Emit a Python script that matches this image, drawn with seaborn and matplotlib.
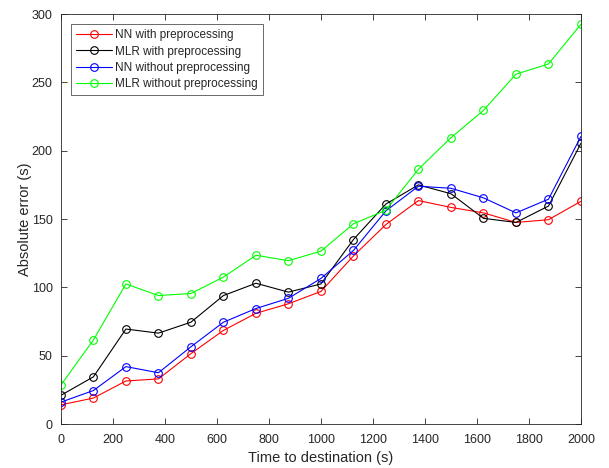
import pandas as pd
import seaborn as sns
import matplotlib.pyplot as plt

# time to destination (s)
time_s = [0, 125, 250, 375, 500, 625, 750, 875, 1000, 1125, 1250, 1375, 1500, 1625, 1750, 1875, 2000]

# absolute error (s) for each method
nn_pre = [14, 19, 31.5, 33, 51.5, 68.5, 81, 88, 97, 123, 146, 163.5, 158.5, 154.5, 147.5, 149.5, 163]
mlr_pre = [21, 34.5, 69.5, 66.5, 74.5, 94, 103, 96.5, 102.5, 135, 161, 175, 168.5, 150.5, 147.5, 159.5, 205.5]
nn_raw = [16, 24.5, 42, 37.5, 56.5, 74.5, 84.5, 92, 106.5, 127, 156, 174, 172.5, 165.5, 154.5, 164.5, 210.5]
mlr_raw = [28.5, 61.5, 102.5, 94, 95.5, 107.5, 123.5, 119.5, 126.5, 146.5, 156.5, 186.5, 209.5, 229.5, 256, 263.5, 292.5]

labels = ["NN with preprocessing", "MLR with preprocessing",
          "NN without preprocessing", "MLR without preprocessing"]
colors = ["#ff0000", "#000000", "#0000ff", "#00ff00"]
series = [nn_pre, mlr_pre, nn_raw, mlr_raw]

sns.set_theme(style="white")
plt.rcParams['font.family'] = ['Liberation Sans', 'DejaVu Sans']
plt.rcParams['xtick.direction'] = 'in'
plt.rcParams['ytick.direction'] = 'in'

fig = plt.figure(figsize=(6.09, 4.68), dpi=100)
ax = fig.add_axes([0.1, 0.094, 0.854, 0.876])

for vals, lab, col in zip(series, labels, colors):
    df = pd.DataFrame({"t": time_s, "err": vals})
    sns.lineplot(data=df, x="t", y="err", ax=ax, color=col, label=lab,
                 marker="o", markersize=5.5, markerfacecolor="none",
                 markeredgecolor=col, markeredgewidth=0.8, linewidth=0.8)

ax.set_xlim(0, 2000)
ax.set_ylim(0, 300)
ax.set_xticks(range(0, 2001, 200))
ax.set_yticks(range(0, 301, 50))
ax.set_xlabel("Time to destination (s)", fontsize=10.5, color="#262626", labelpad=4)
ax.set_ylabel("Absolute error (s)", fontsize=10.5, color="#262626", labelpad=0)
ax.tick_params(axis="x", pad=7)
ax.tick_params(axis="y", pad=6)
ax.tick_params(axis="both", labelsize=9, colors="#262626", length=4, width=0.6,
               top=True, right=True, bottom=True, left=True)
for sp in ax.spines.values():
    sp.set_color("#262626")
    sp.set_linewidth(0.6)

leg = ax.legend(loc="upper left", fontsize=8.5, frameon=True, fancybox=False,
                edgecolor="#262626", handlelength=3.0, handletextpad=0.3,
                borderaxespad=0.85, labelspacing=0.35, borderpad=0.45)
leg.get_frame().set_linewidth(0.6)

fig.savefig("out.png", dpi=100)
